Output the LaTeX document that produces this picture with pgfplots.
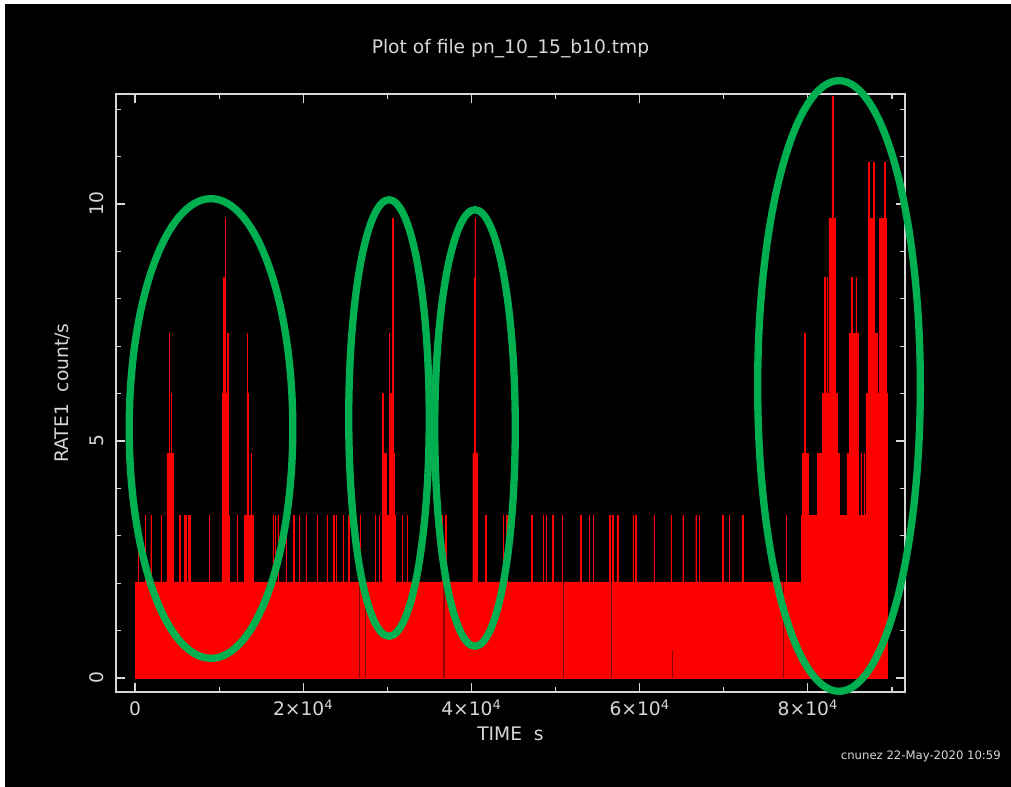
\documentclass[border=0pt]{standalone}
\usepackage{fontspec}
\setmainfont{DejaVu Sans}
\usepackage{pgfplots}
\pgfplotsset{compat=1.18}
\definecolor{eg}{RGB}{0,176,80}
\definecolor{fg}{RGB}{215,215,215}
\definecolor{gapred}{RGB}{125,10,10}
\begin{document}
\begin{tikzpicture}[font=\fontsize{14pt}{17pt}\selectfont]
\path[use as bounding box] (0,0) rectangle (758.25pt,590.25pt);
\fill[white] (0,0) rectangle (758.25pt,590.25pt);
\fill[black] (3.75pt,0) rectangle (758.25pt,587.25pt);
\begin{axis}[
  at={(87pt,71.25pt)}, anchor=south west,
  scale only axis, width=591.75pt, height=448.5pt,
  xmin=-2262, xmax=91550, ymin=-0.295, ymax=12.32,
  scaled x ticks=false, scaled y ticks=false,
  axis line style={fg, line width=1.1pt},
  tick pos=both, tick align=inside,
  xtick={0,20000,40000,60000,80000},
  xticklabels={0,2×10\textsuperscript{4},4×10\textsuperscript{4},6×10\textsuperscript{4},8×10\textsuperscript{4}},
  minor xtick={10000,30000,50000,70000,90000},
  ytick={0,5,10}, yticklabels={0,5,10},
  minor ytick={1,2,3,4,6,7,8,9,11,12},
  major tick length=6.75pt, minor tick length=3.75pt,
  every tick/.style={fg, line width=0.9pt},
  xticklabel style={anchor=base, yshift=-18pt, text=fg},
  yticklabel style={xshift=-9.75pt, rotate=90, anchor=base, text=fg},
  title={Plot of file pn\_10\_15\_b10.tmp},
  title style={at={(axis description cs:0.5,1.054)}, anchor=base, text=fg},
  xlabel={TIME\ \ s},
  xlabel style={at={(axis description cs:0.5,-0.0803)}, anchor=base, text=fg},
  ylabel={RATE1\ \ count/s},
  ylabel style={at={(axis description cs:-0.0605,0.5)}, anchor=base, text=fg},
]
\addplot[const plot, fill=red, draw=red, line width=0.3pt] coordinates {
(0,2.03)
(393,3.43) (433,2.03)
(1190,3.43) (1230,2.03)
(1869,3.43) (1909,2.03)
(3060,3.43) (3100,2.03)
(3774,4.74) (4060,7.27) (4110,4.74) (4290,6.0) (4350,4.74) (4488,2.03)
(5274,3.43) (5314,2.03)
(5833,3.43) (6071,2.03)
(6345,3.43) (6385,2.03)
(6548,3.43) (6588,2.03)
(8810,3.43) (8850,2.03)
(10322,3.43) (10393,6.0) (10512,8.45) (10700,9.7) (10750,6.0) (10798,3.43) (11010,7.27) (11060,3.43) (11190,2.03)
(12107,3.43) (12147,2.03)
(13012,3.43) (13290,6.0) (13333,7.27) (13380,6.0) (13420,3.43) (13760,4.74) (13810,3.43) (14012,2.03)
(16393,3.43) (16433,2.03)
(16667,3.43) (16707,2.03)
(16988,3.43) (17028,2.03)
(17940,3.43) (17980,2.03)
(18845,3.43) (18885,2.03)
(19524,3.43) (19564,2.03)
(20321,3.43) (20361,2.03)
(21631,3.43) (21671,2.03)
(22821,3.43) (22861,2.03)
(23607,3.43) (23647,2.03)
(23929,3.43) (23969,2.03)
(24726,3.43) (24766,2.03)
(25393,3.43) (25433,2.03)
(26583,0) (26643,2.03)
(26786,3.43) (26826,2.03)
(27381,0) (27441,2.03)
(28571,3.43) (28611,2.03)
(29048,3.43) (29088,2.03)
(29369,3.43) (29405,6.0) (29450,3.43) (29488,4.74) (29845,3.43) (30230,7.27) (30280,6.0) (30620,9.7) (30670,6.0) (30750,4.74) (30869,3.43) (30952,2.03)
(31750,3.43) (31790,2.03)
(32345,3.43) (32385,2.03)
(36512,3.43) (36552,2.03)
(36702,0) (36762,2.03)
(36905,3.43) (36945,2.03)
(40155,4.74) (40340,8.45) (40420,9.7) (40470,4.74) (40679,2.03)
(41667,3.43) (41707,2.03)
(43774,3.43) (43814,2.03)
(44167,3.43) (44207,2.03)
(47143,3.43) (47183,2.03)
(48536,3.43) (48576,2.03)
(48893,3.43) (48933,2.03)
(49643,3.43) (49683,2.03)
(50800,3.43) (50840,2.03)
(50900,0) (50960,2.03)
(52976,3.43) (53016,2.03)
(54012,3.43) (54052,2.03)
(54488,3.43) (54528,2.03)
(56429,3.43) (56469,2.03)
(56631,0) (56691,2.03)
(56786,3.43) (56826,2.03)
(57300,3.43) (57450,2.03)
(59202,3.43) (59242,2.03)
(59480,3.43) (59560,2.03)
(61702,3.43) (61742,2.03)
(63700,3.43) (63740,2.03)
(63800,0.6) (63860,2.03)
(65119,3.43) (65159,2.03)
(66667,3.43) (66707,2.03)
(67060,3.43) (67100,2.03)
(69845,3.43) (69885,2.03)
(70631,3.43) (70671,2.03)
(72143,3.43) (72300,2.03)
(77107,0) (77167,2.03)
(77417,3.43) (77457,2.03)
(79250,3.43) (79369,4.74) (79620,7.27) (79680,4.74) (80000,3.43) (80357,2.03) (80417,3.43) (81155,4.74) (81548,2.03) (81610,4.74) (81750,6.0) (82000,8.45) (82060,6.0) (82262,8.45) (82320,6.0) (82500,9.7) (82857,12.28) (82900,9.7) (82980,12.28) (83030,9.7) (83250,6.0) (83536,4.74) (83690,3.43) (84100,2.03) (84160,3.43) (84643,4.74) (84917,7.27) (85202,8.45) (85262,7.27) (85714,8.45) (85774,7.27) (85990,3.43) (86300,4.74) (86360,3.43) (86650,4.74) (86710,3.43) (86905,6.0) (87179,10.88) (87240,9.7) (87800,10.88) (87860,7.27) (88200,6.0) (88500,9.7) (89083,10.88) (89143,9.7) (89286,6.0) (89400,6.0)
} \closedcycle;
\addplot[ycomb, color=gapred, line width=0.5pt, mark=none] coordinates {
(26613,2.03) (27411,2.03) (36732,2.03) (50930,2.03) (56661,2.03) (63830,0.6) (77137,2.03)
};
\end{axis}
\draw[eg, line width=5.5pt] (158.25pt,268.875pt) ellipse [x radius=61.35pt, y radius=172.35pt];
\draw[eg, line width=5.5pt] (291.75pt,276.75pt) ellipse [x radius=30.2pt, y radius=163.7pt];
\draw[eg, line width=5.5pt] (356.25pt,269.25pt) ellipse [x radius=30.2pt, y radius=163.7pt];
\draw[eg, line width=5.5pt] (629.25pt,300.75pt) ellipse [x radius=61.0pt, y radius=229.0pt];
\node[anchor=base east, text=fg, font=\fontsize{8.75pt}{10pt}\selectfont, inner sep=0pt] at (750.75pt,20.25pt) {cnunez 22-May-2020 10:59};
\end{tikzpicture}
\end{document}
